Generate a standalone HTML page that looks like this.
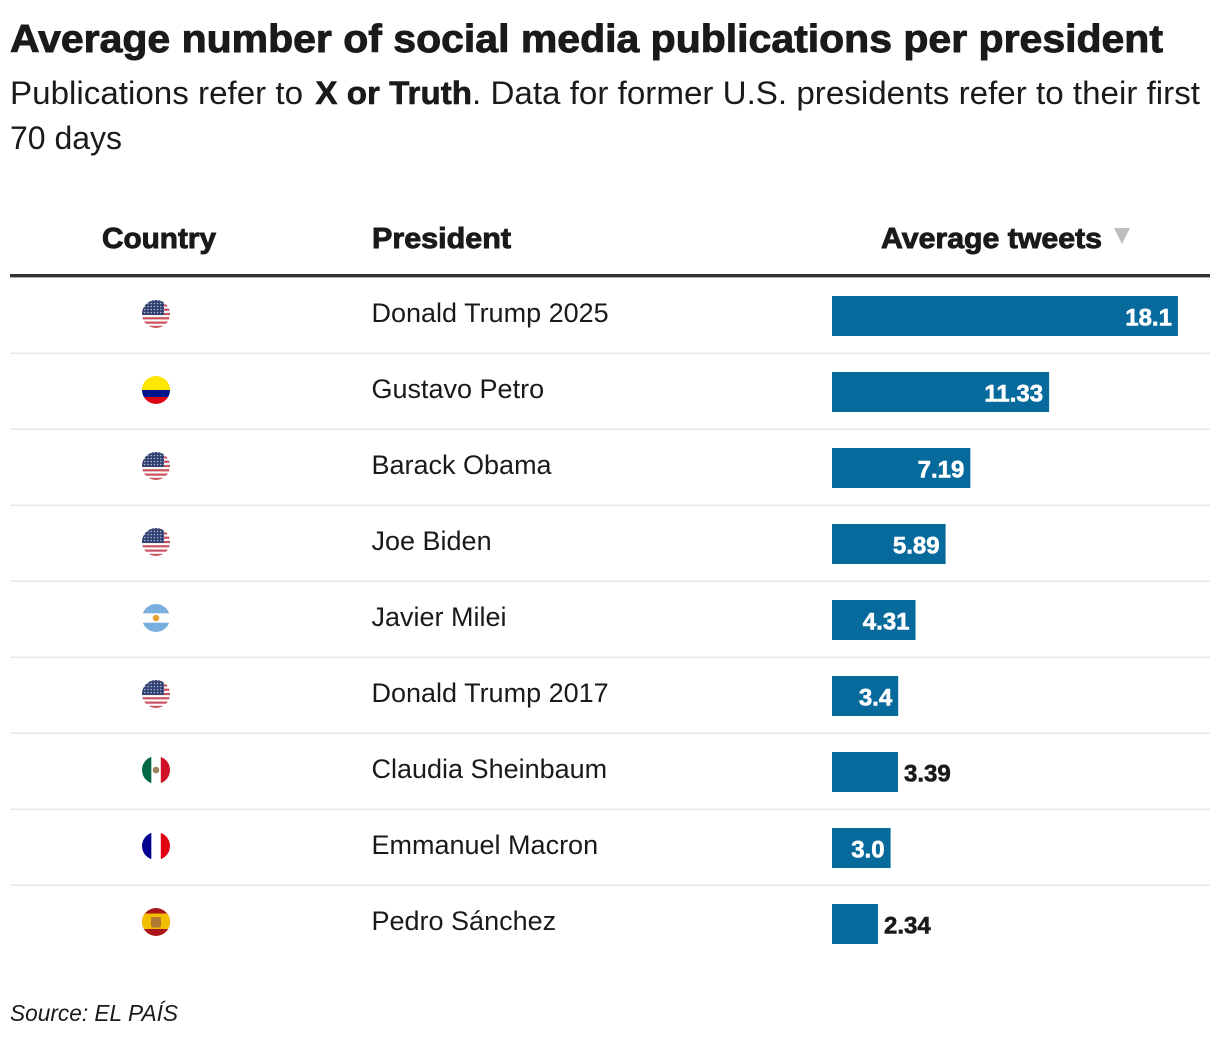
<!DOCTYPE html>
<html lang="en">
<head>
<meta charset="utf-8">
<title>Average number of social media publications per president</title>
<style>
  html, body { margin: 0; padding: 0; background: #fff; }
  body { width: 1220px; height: 1050px; overflow: hidden; }
  svg { display: block; }
  text { font-family: "Liberation Sans", sans-serif; fill: #1a1a1a; }
  .heavy { font-weight: 700; stroke: #1a1a1a; stroke-width: .9px; }
  .heavy-sub { font-weight: 700; stroke: #1a1a1a; stroke-width: .6px; }
</style>
</head>
<body>
<svg id="chart" xmlns="http://www.w3.org/2000/svg" width="1220" height="1050" viewBox="0 0 1220 1050">
  <defs>
    <clipPath id="flag-clip"><circle cx="0" cy="0" r="14"/></clipPath>
    <pattern id="star-dots" width="3.2" height="3" patternUnits="userSpaceOnUse">
      <rect width="3.2" height="3" fill="#2e3f70"/>
      <circle cx="1.6" cy="1.5" r=".75" fill="#b8c0d8"/>
    </pattern>
    <g id="flag-us" clip-path="url(#flag-clip)">
      <rect x="-14" y="-14" width="28" height="28" fill="#fff"/>
      <g fill="#c9505c">
        <rect x="-14" y="-14" width="28" height="2.2"/><rect x="-14" y="-9.7" width="28" height="2.2"/>
        <rect x="-14" y="-5.4" width="28" height="2.2"/><rect x="-14" y="-1.1" width="28" height="2.2"/>
        <rect x="-14" y="3.2" width="28" height="2.2"/><rect x="-14" y="7.5" width="28" height="2.2"/>
        <rect x="-14" y="11.8" width="28" height="2.2"/>
      </g>
      <rect x="-14" y="-14" width="22" height="15" fill="url(#star-dots)"/>
    </g>
    <g id="flag-co" clip-path="url(#flag-clip)">
      <rect x="-14" y="-14" width="28" height="14" fill="#ffe600"/>
      <rect x="-14" y="0" width="28" height="7" fill="#00148c"/>
      <rect x="-14" y="7" width="28" height="7" fill="#dc0014"/>
    </g>
    <g id="flag-ar" clip-path="url(#flag-clip)">
      <rect x="-14" y="-14" width="28" height="28" fill="#fff"/>
      <rect x="-14" y="-14" width="28" height="9.3" fill="#79aede"/>
      <rect x="-14" y="4.7" width="28" height="9.3" fill="#79aede"/>
      <circle cx="0" cy="0" r="3.3" fill="#e5a43a"/>
    </g>
    <g id="flag-mx" clip-path="url(#flag-clip)">
      <rect x="-14" y="-14" width="9.4" height="28" fill="#006847"/>
      <rect x="-4.6" y="-14" width="9.4" height="28" fill="#fff"/>
      <rect x="4.8" y="-14" width="9.4" height="28" fill="#ce1126"/>
      <circle cx="0" cy="0" r="3.3" fill="#9a8560"/>
    </g>
    <g id="flag-fr" clip-path="url(#flag-clip)">
      <rect x="-14" y="-14" width="9.4" height="28" fill="#000091"/>
      <rect x="-4.6" y="-14" width="9.4" height="28" fill="#fff"/>
      <rect x="4.8" y="-14" width="9.4" height="28" fill="#e1000f"/>
    </g>
    <g id="flag-es" clip-path="url(#flag-clip)">
      <rect x="-14" y="-14" width="28" height="28" fill="#aa151b"/>
      <rect x="-14" y="-8.5" width="28" height="15.5" fill="#f1bf00"/>
      <rect x="-5" y="-5" width="10" height="10.5" rx="2" fill="#b07a34"/>
    </g>
  </defs>

  <text class="heavy" x="10" y="52" font-size="39" textLength="1153" lengthAdjust="spacingAndGlyphs">Average number of social media publications per president</text>
  <text x="10" y="104" font-size="32" textLength="1190" lengthAdjust="spacingAndGlyphs">Publications refer to <tspan class="heavy-sub" dx="3">X or Truth</tspan>. Data for former U.S. presidents refer to their first</text>
  <text x="10" y="149" font-size="32" textLength="112" lengthAdjust="spacingAndGlyphs">70 days</text>

  <text class="heavy" x="102" y="248" font-size="29" textLength="114" lengthAdjust="spacingAndGlyphs">Country</text>
  <text class="heavy" x="372" y="248" font-size="29" textLength="139" lengthAdjust="spacingAndGlyphs">President</text>
  <text class="heavy" x="881" y="248" font-size="29" textLength="221" lengthAdjust="spacingAndGlyphs">Average tweets</text>
  <path d="M1114 228H1130L1122 244Z" fill="#bdbdbd"/>
  <rect x="10" y="274" width="1200" height="3.4" fill="#333"/>

  <g id="rows"></g>

  <text x="10" y="1021" font-size="23" font-style="italic" textLength="168" lengthAdjust="spacingAndGlyphs">Source: EL PAÍS</text>
</svg>

<script>
const presidents = ["Donald Trump 2025", "Gustavo Petro", "Barack Obama", "Joe Biden", "Javier Milei", "Donald Trump 2017", "Claudia Sheinbaum", "Emmanuel Macron", "Pedro Sánchez"];
const countries = ["us", "co", "us", "us", "ar", "us", "mx", "fr", "es"];
const averageTweets = [18.1, 11.33, 7.19, 5.89, 4.31, 3.4, 3.39, 3.0, 2.34];

const NS = "http://www.w3.org/2000/svg";
const rowsLayer = document.getElementById("rows");
const xScale = v => 1.5 + v * 19.03;
const rowTop = i => 277 + i * 76;
const formatValue = v => Number.isInteger(v) ? v.toFixed(1) : String(v);

function make(tag, attrs, parent) {
  const el = document.createElementNS(NS, tag);
  for (const k in attrs) el.setAttribute(k, attrs[k]);
  parent.appendChild(el);
  return el;
}

presidents.forEach((name, i) => {
  const top = rowTop(i);
  const value = averageTweets[i];

  const row = make("g", {}, rowsLayer);
  
  

  const flag = make("use", { href: "#flag-" + countries[i], x: 156, y: top + 37 }, row);
  
  

  const label = make("text", { x: 371.5, y: top + 45, "font-size": 27 }, row);
  label.textContent = name;
  
  

  const w = xScale(value);
  const bar = make("rect", { x: 832, y: top + 19, width: w, height: 40, fill: "#066a9c" }, row);
  
  

  const val = make("text", { y: top + 48.5, "font-size": 24, "font-weight": 700, "stroke-width": 0.6 }, row);
  val.textContent = formatValue(value);
  
  
  const tw = val.getComputedTextLength();
  if (w > tw + 24) {
    val.setAttribute("x", 832 + w - 6);
    val.setAttribute("text-anchor", "end");
    val.style.fill = "#fff";
    val.style.stroke = "#fff";
  } else {
    val.setAttribute("x", 832 + w + 6);
    val.style.fill = "#1a1a1a";
    val.style.stroke = "#1a1a1a";
  }

  if (i < presidents.length - 1) {
    const rule = make("rect", { x: 10, y: top + 75.5, width: 1200, height: 1.5, fill: "#e8e8e8" }, row);
    
    
  }
});
</script>
</body>
</html>
